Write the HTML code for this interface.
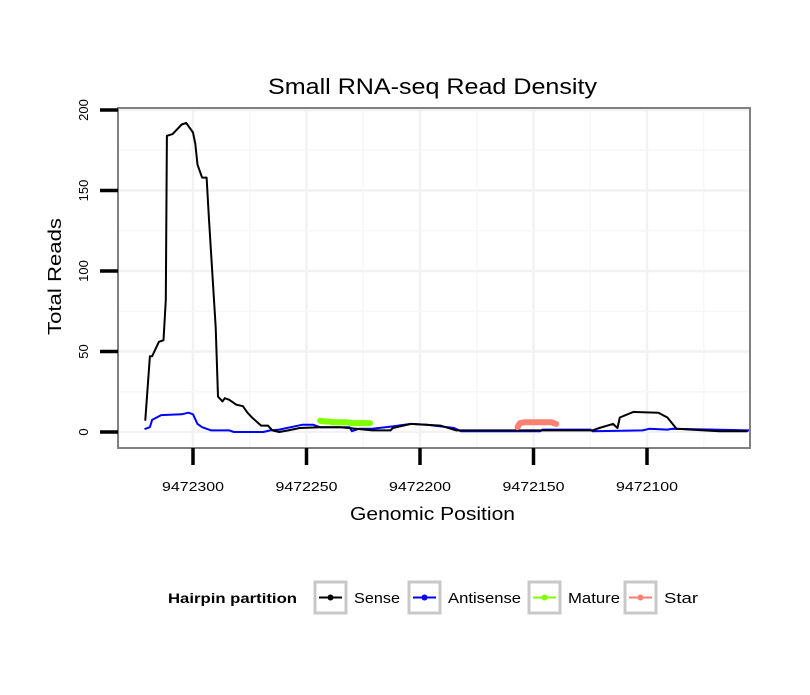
<!DOCTYPE html>
<html><head><meta charset="utf-8"><style>
body{margin:0;background:#fff;font-family:"Liberation Sans",sans-serif}
</style></head><body>
<svg id="chart" width="810" height="690" xmlns="http://www.w3.org/2000/svg" font-family="Liberation Sans, sans-serif">
<rect width="810" height="690" fill="#fff"/>
<text x="268" y="94" font-size="22" textLength="329" lengthAdjust="spacingAndGlyphs">Small RNA-seq Read Density</text>
<g id="grid"></g>
<g id="series"></g>
<rect x="118" y="108" width="632" height="340" fill="none" stroke="#808080" stroke-width="2"/>
<g id="axes"></g>
<text x="350" y="520" font-size="18" textLength="165" lengthAdjust="spacingAndGlyphs">Genomic Position</text>
<text transform="translate(61,335) rotate(-90)" font-size="18" textLength="117" lengthAdjust="spacingAndGlyphs">Total Reads</text>
<g font-size="15">
<text x="168" y="603" font-weight="bold" font-size="14" textLength="129" lengthAdjust="spacingAndGlyphs">Hairpin partition</text>
<g><rect x="315" y="582" width="31" height="31" fill="#fff" stroke="#c8c8c8" stroke-width="3"/><line x1="319" y1="597.5" x2="342" y2="597.5" stroke="#000" stroke-width="2"/><circle cx="330.5" cy="597.5" r="3" fill="#000"/><text x="354" y="603" textLength="46" lengthAdjust="spacingAndGlyphs">Sense</text></g>
<g><rect x="409" y="582" width="31" height="31" fill="#fff" stroke="#c8c8c8" stroke-width="3"/><line x1="413" y1="597.5" x2="436" y2="597.5" stroke="#00f" stroke-width="2"/><circle cx="424.5" cy="597.5" r="3" fill="#00f"/><text x="448" y="603" textLength="73" lengthAdjust="spacingAndGlyphs">Antisense</text></g>
<g><rect x="529" y="582" width="31" height="31" fill="#fff" stroke="#c8c8c8" stroke-width="3"/><line x1="533" y1="597.5" x2="556" y2="597.5" stroke="#7fff00" stroke-width="2"/><circle cx="544.5" cy="597.5" r="3" fill="#7fff00"/><text x="568" y="603" textLength="52" lengthAdjust="spacingAndGlyphs">Mature</text></g>
<g><rect x="625" y="582" width="31" height="31" fill="#fff" stroke="#c8c8c8" stroke-width="3"/><line x1="629" y1="597.5" x2="652" y2="597.5" stroke="#fa8072" stroke-width="2"/><circle cx="640.5" cy="597.5" r="3" fill="#fa8072"/><text x="664" y="603" textLength="34" lengthAdjust="spacingAndGlyphs">Star</text></g>
</g>
</svg>
<script>
const xTicks=[9472300,9472250,9472200,9472150,9472100];
const yTicks=[0,50,100,150,200];
const sensePos=[9472321,9472319,9472318,9472315,9472313,9472312,9472311.5,9472309,9472305,9472303,9472300,9472299,9472298,9472296,9472294,9472293,9472290,9472289,9472287,9472286,9472284,9472281,9472278,9472276,9472274,9472270,9472267,9472265,9472262,9472258,9472253,9472244,9472235,9472221,9472213,9472212,9472204,9472191,9472184,9472124,9472121,9472115,9472113,9472112,9472106,9472095,9472091,9472087,9472075,9472068,9472056];
const senseVal=[7.5,47,47,56,57,82,184,185,191,192,186,179,166,158,158,133,65,22,19,21,20,17,16,12,9,4,4,1,0,1,2.5,3,3,1,1,2.5,5,4,1,1,2.5,5,2.5,9,12.5,12,9,2,1,0.5,0.5];
const antiPos=[9472321,9472319,9472318,9472314,9472305,9472302,9472300,9472298,9472296,9472292,9472284,9472282,9472269,9472266,9472262,9472252,9472247,9472244,9472231,9472230,9472227,9472221,9472212,9472204,9472197,9472185,9472182,9472147,9472146,9472125,9472124,9472102,9472099,9472091,9472089,9472055];
const antiVal=[2,3,7.5,10.5,11,12,11,5,3,1,1,0,0,1,1.5,4.5,4.5,3,3,0.5,2,2,3.5,5,4.5,2.5,0.5,0.5,1.5,1.5,0.5,1,2,1.5,2,1];
const maturePos=[9472244,9472242,9472240,9472238,9472236,9472234,9472232,9472230,9472228,9472226,9472224,9472222];
const matureVal=[7,6.5,6.5,6,6,6,6,5.5,5.5,5.5,5.5,5.5];
const starPos=[9472157,9472156,9472154,9472152,9472150,9472148,9472146,9472144,9472142,9472140];
const starVal=[3,5.5,6,6,6,6,6,6,6,5];

const NS="http://www.w3.org/2000/svg";
const X=p=>193+(9472300-p)*2.27;
const Y=v=>432-v*1.61;
function mk(tag,attrs,parent){const e=document.createElementNS(NS,tag);for(const k in attrs)e.setAttribute(k,attrs[k]);parent.appendChild(e);return e;}
const grid=document.getElementById('grid'),axes=document.getElementById('axes'),series=document.getElementById('series');
mk('rect',{x:118,y:108,width:632,height:340,fill:'#fff'},grid);
for(let i=0;i<xTicks.length;i++){
  const x=X(xTicks[i]),xm=X(xTicks[i]-25);
  const g1=mk('line',{x1:xm,x2:xm,y1:108,y2:448,stroke:'#f7f7f7','stroke-width':1.5},grid);
  
  const g=mk('line',{x1:x,x2:x,y1:108,y2:448,stroke:'#f2f2f2','stroke-width':2.5},grid);
  
  const t=mk('line',{x1:x,x2:x,y1:448,y2:465,stroke:'#000','stroke-width':3.5},axes);
  
  const l=mk('text',{x:x-31,y:491,'font-size':13,textLength:62,lengthAdjust:'spacingAndGlyphs'},axes);l.textContent=xTicks[i];
  
}
for(let i=0;i<yTicks.length;i++){
  const y=Y(yTicks[i]);
  if(i<yTicks.length-1){const ym=Y(yTicks[i]+25);
    const g1=mk('line',{x1:118,x2:750,y1:ym,y2:ym,stroke:'#f7f7f7','stroke-width':1.5},grid);
    }
  const g=mk('line',{x1:118,x2:750,y1:y,y2:y,stroke:'#f2f2f2','stroke-width':2.5},grid);
  
  const t=mk('line',{x1:100,x2:118,y1:y,y2:y,stroke:'#000','stroke-width':3.5},axes);
  
  const l=mk('text',{transform:`translate(88,${y}) rotate(-90)`,'font-size':13,'text-anchor':'middle'},axes);l.textContent=yTicks[i];
  
}
function line(pos,val,color,w,name){
  const d=pos.map((p,i)=>(i?'L':'M')+X(p).toFixed(1)+','+Y(val[i]).toFixed(1)).join('');
  const e=mk('path',{d:d,fill:'none',stroke:color,'stroke-width':w,'stroke-linejoin':'round','stroke-linecap':'round'},series);
  
}
line(antiPos,antiVal,'#0000ff',2,'antisense-line');
line(sensePos,senseVal,'#000000',2,'sense-line');
line(maturePos,matureVal,'#7fff00',6,'mature-line');
line(starPos,starVal,'#fa8072',6,'star-line');
</script>
</body></html>
